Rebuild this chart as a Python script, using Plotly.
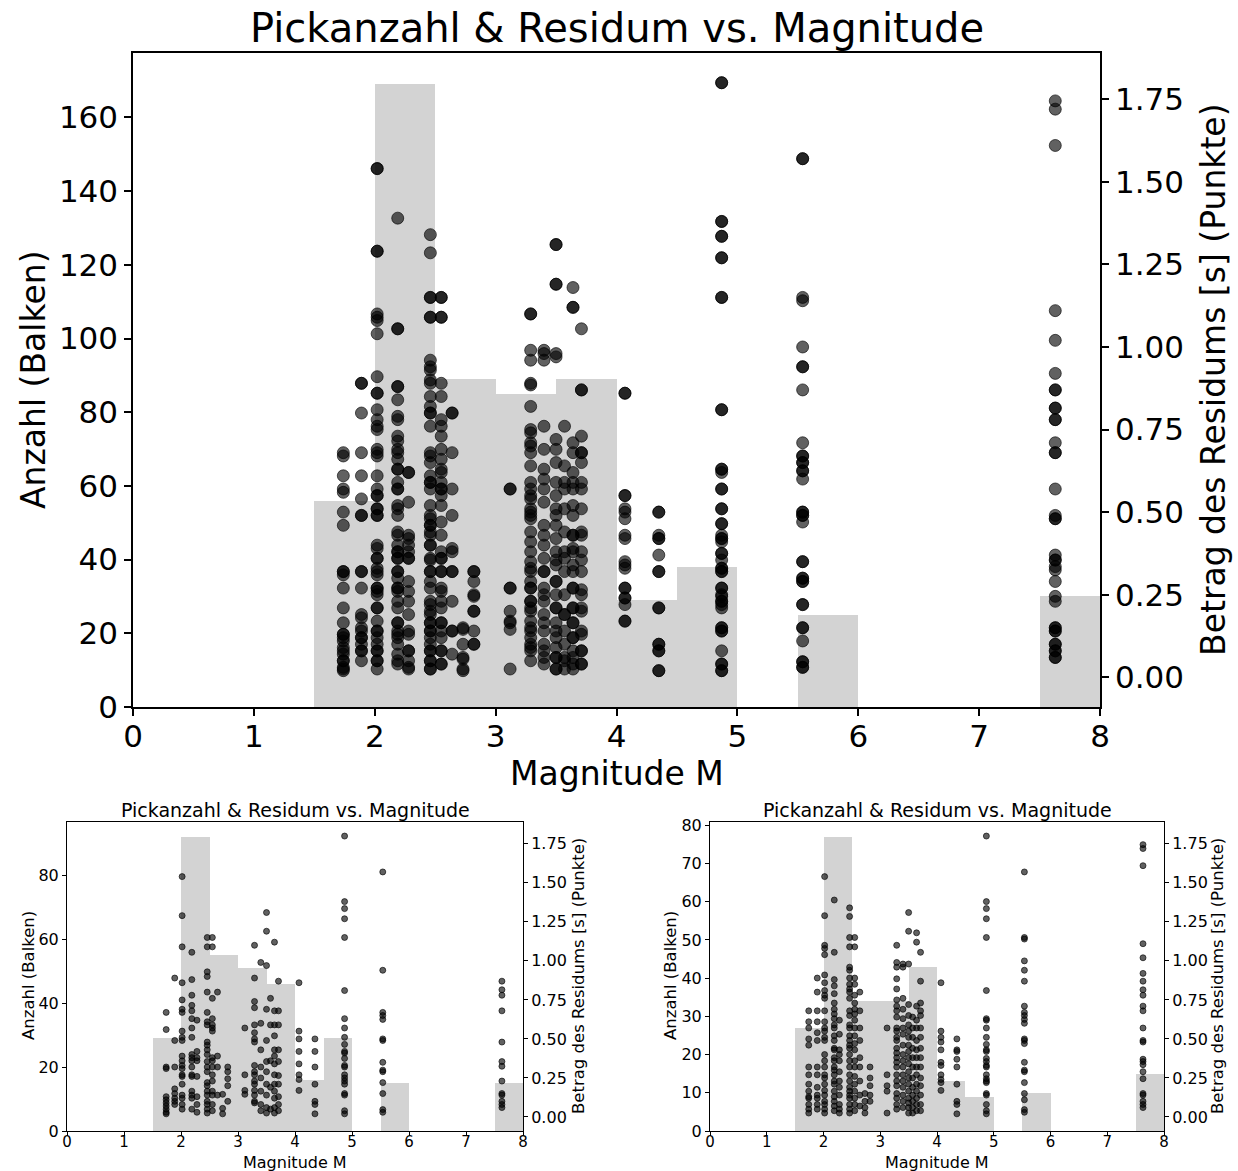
import plotly.graph_objects as go

# ---------------- data ----------------
title_text = "Pickanzahl & Residum vs. Magnitude"
x_label = "Magnitude M"
y_left_label = "Anzahl (Balken)"
y_right_label = "Betrag des Residums [s] (Punkte)"

bin_left_edges = [1.5, 2.0, 2.5, 3.0, 3.5, 4.0, 4.5, 5.0, 5.5, 6.0, 6.5, 7.0, 7.5]
counts_all = [56, 169, 89, 85, 89, 29, 38, 0, 25, 0, 0, 0, 30]
counts_a = [29, 92, 55, 51, 46, 16, 29, 0, 15, 0, 0, 0, 15]
counts_b = [27, 77, 34, 34, 43, 13, 9, 0, 10, 0, 0, 0, 15]

event_mag = [1.74, 1.89, 2.02, 2.19, 2.28, 2.46, 2.55, 2.64, 2.73, 2.82, 3.12,
             3.29, 3.40, 3.50, 3.57, 3.64, 3.71, 4.07, 4.35, 4.87, 5.54, 7.63]

resid_a = [
    [0.67, 0.56, 0.32, 0.31, 0.13, 0.11, 0.09, 0.07, 0.05, 0.03, 0.02],
    [0.89, 0.49, 0.32, 0.18, 0.15, 0.12, 0.10, 0.08],
    [1.54, 1.29, 1.09, 0.86, 0.75, 0.69, 0.67, 0.55, 0.51, 0.49, 0.39, 0.36, 0.33, 0.31, 0.27, 0.26, 0.21, 0.14, 0.12, 0.08, 0.05],
    [1.055, 0.88, 0.78, 0.715, 0.68, 0.63, 0.57, 0.51, 0.40, 0.38, 0.36, 0.32, 0.27, 0.26, 0.165, 0.14, 0.12, 0.05],
    [0.62, 0.42, 0.38, 0.36, 0.26, 0.13, 0.08, 0.03],
    [1.15, 1.09, 0.93, 0.90, 0.80, 0.67, 0.61, 0.59, 0.48, 0.46, 0.43, 0.40, 0.355, 0.32, 0.29, 0.22, 0.20, 0.165, 0.14, 0.10, 0.08, 0.05, 0.025],
    [1.15, 1.09, 0.76, 0.63, 0.59, 0.57, 0.55, 0.38, 0.36, 0.32, 0.27, 0.23, 0.165, 0.14, 0.08, 0.04],
    [0.80, 0.39, 0.32, 0.14],
    [0.145, 0.055, 0.02],
    [0.32, 0.29, 0.245, 0.20, 0.10],
    [0.57, 0.27, 0.17, 0.145],
    [1.10, 0.89, 0.74, 0.70, 0.59, 0.54, 0.50, 0.48, 0.33, 0.29, 0.27, 0.23, 0.21, 0.17, 0.14, 0.10, 0.09],
    [0.99, 0.60, 0.43, 0.32, 0.25, 0.165, 0.08, 0.04],
    [1.31, 1.19, 0.97, 0.69, 0.49, 0.355, 0.29, 0.21, 0.14, 0.06, 0.025],
    [0.76, 0.59, 0.36, 0.19, 0.05],
    [1.12, 0.68, 0.59, 0.52, 0.43, 0.39, 0.34, 0.27, 0.21, 0.165, 0.12, 0.06, 0.025],
    [0.87, 0.68, 0.59, 0.43, 0.355, 0.265, 0.21, 0.13, 0.08, 0.04],
    [0.86, 0.55, 0.50, 0.42, 0.34, 0.27, 0.24, 0.17],
    [0.50, 0.42, 0.32, 0.21, 0.10, 0.08, 0.02],
    [1.80, 1.38, 1.335, 1.27, 1.15, 0.81, 0.63, 0.57, 0.51, 0.465, 0.42, 0.41, 0.375, 0.33, 0.32, 0.27, 0.25, 0.23, 0.21, 0.15, 0.14, 0.04, 0.02],
    [1.57, 0.94, 0.67, 0.65, 0.625, 0.50, 0.49, 0.35, 0.30, 0.29, 0.22, 0.15, 0.047, 0.03],
    [0.87, 0.815, 0.78, 0.68, 0.48, 0.355, 0.325, 0.23, 0.15, 0.14, 0.10, 0.08, 0.06],
]

resid_b = [
    [0.68, 0.61, 0.57, 0.50, 0.46, 0.32, 0.27, 0.21, 0.165, 0.13, 0.12, 0.08, 0.05, 0.025],
    [0.89, 0.80, 0.68, 0.61, 0.54, 0.49, 0.32, 0.27, 0.19, 0.14, 0.12, 0.08, 0.05],
    [1.54, 1.29, 1.10, 1.08, 1.04, 0.91, 0.86, 0.81, 0.78, 0.76, 0.68, 0.61, 0.57, 0.55, 0.51, 0.49, 0.40, 0.36, 0.32, 0.27, 0.25, 0.21, 0.17, 0.14, 0.10, 0.08, 0.05, 0.025],
    [1.39, 1.055, 0.88, 0.84, 0.79, 0.73, 0.69, 0.66, 0.63, 0.59, 0.57, 0.52, 0.49, 0.44, 0.43, 0.38, 0.36, 0.32, 0.30, 0.27, 0.23, 0.21, 0.165, 0.13, 0.10, 0.07, 0.04],
    [0.62, 0.53, 0.43, 0.40, 0.36, 0.29, 0.23, 0.19, 0.14, 0.08, 0.05, 0.025],
    [1.34, 1.285, 1.15, 1.09, 0.96, 0.94, 0.89, 0.85, 0.82, 0.80, 0.76, 0.68, 0.65, 0.59, 0.57, 0.52, 0.49, 0.46, 0.44, 0.40, 0.36, 0.32, 0.27, 0.23, 0.19, 0.165, 0.14, 0.12, 0.08, 0.05, 0.025],
    [1.15, 1.09, 0.89, 0.85, 0.78, 0.73, 0.69, 0.66, 0.62, 0.57, 0.52, 0.47, 0.43, 0.36, 0.32, 0.26, 0.21, 0.165, 0.12, 0.08, 0.04],
    [0.80, 0.68, 0.57, 0.49, 0.38, 0.32, 0.23, 0.14, 0.07],
    [0.15, 0.10, 0.06, 0.025],
    [0.32, 0.25, 0.20, 0.14, 0.10],
    [0.57, 0.27, 0.20, 0.165, 0.025],
    [1.10, 0.99, 0.96, 0.885, 0.82, 0.75, 0.71, 0.68, 0.64, 0.57, 0.55, 0.51, 0.49, 0.44, 0.41, 0.38, 0.35, 0.32, 0.27, 0.23, 0.20, 0.15, 0.12, 0.08, 0.05],
    [0.98, 0.96, 0.76, 0.69, 0.63, 0.57, 0.53, 0.46, 0.40, 0.36, 0.32, 0.27, 0.23, 0.19, 0.14, 0.10, 0.06],
    [1.31, 1.19, 0.98, 0.72, 0.65, 0.59, 0.55, 0.51, 0.46, 0.42, 0.38, 0.34, 0.29, 0.25, 0.21, 0.165, 0.12, 0.09, 0.06, 0.025],
    [0.64, 0.57, 0.51, 0.44, 0.38, 0.32, 0.25, 0.19, 0.14, 0.10, 0.06, 0.025],
    [1.18, 1.12, 0.71, 0.62, 0.57, 0.49, 0.43, 0.38, 0.32, 0.27, 0.21, 0.165, 0.12, 0.08, 0.04],
    [1.055, 0.87, 0.73, 0.68, 0.65, 0.57, 0.51, 0.44, 0.38, 0.32, 0.25, 0.20, 0.14, 0.08, 0.04],
    [0.86, 0.55, 0.51, 0.48, 0.43, 0.35, 0.33, 0.27, 0.24, 0.22, 0.17],
    [0.50, 0.43, 0.42, 0.37, 0.32, 0.21, 0.10, 0.08, 0.02],
    [1.80, 1.38, 1.335, 1.27, 1.15, 0.81, 0.63, 0.62, 0.57, 0.51, 0.465, 0.43, 0.42, 0.375, 0.355, 0.33, 0.32, 0.27, 0.245, 0.23, 0.22, 0.15, 0.14, 0.08, 0.04, 0.02],
    [1.57, 1.15, 1.14, 1.00, 0.94, 0.87, 0.71, 0.67, 0.65, 0.625, 0.60, 0.50, 0.49, 0.47, 0.35, 0.30, 0.29, 0.22, 0.15, 0.11, 0.047, 0.03],
    [1.745, 1.72, 1.61, 1.11, 1.02, 0.92, 0.87, 0.815, 0.78, 0.71, 0.68, 0.57, 0.49, 0.48, 0.37, 0.355, 0.335, 0.29, 0.245, 0.15, 0.14, 0.10, 0.08, 0.06],
]

BIN_W = 0.5
W, H = 1238, 1171


def flatten(mags, groups):
    xs, ys = [], []
    for m, g in zip(mags, groups):
        for r in g:
            xs.append(m)
            ys.append(r)
    return xs, ys


xa, ya = flatten(event_mag, resid_a)
xb, yb = flatten(event_mag, resid_b)

BAR_COLOR = "#d3d3d3"
PT = "rgba(0,0,0,0.62)"
FONT = "DejaVu Sans"

fig = go.Figure()

panels = [
    ("x", "y", "y2", counts_all, xa + xb, ya + yb, 12),
    ("x2", "y3", "y4", counts_a, xa, ya, 6),
    ("x3", "y5", "y6", counts_b, xb, yb, 6),
]

for xid, yl, yr, counts, sx, sy, msize in panels:
    fig.add_trace(go.Bar(
        x=[e + BIN_W / 2 for e in bin_left_edges], y=counts, width=BIN_W,
        marker=dict(color=BAR_COLOR, line=dict(width=0)),
        xaxis=xid, yaxis=yl, showlegend=False, hoverinfo="skip"))
    fig.add_trace(go.Scatter(
        x=sx, y=sy, mode="markers",
        marker=dict(size=msize, color=PT, line=dict(width=1, color=PT)),
        xaxis=xid, yaxis=yr, showlegend=False))


def px_x(p):
    return p / W


def px_y(p):
    return 1 - p / H


top_box = (133, 1100, 53, 707)
bl_box = (67, 523, 822, 1131)
br_box = (710, 1164, 822, 1131)


def common(font, lw, tl):
    return dict(showgrid=False, zeroline=False, showline=True, automargin=False,
                linecolor="black", linewidth=lw, ticks="outside", ticklen=tl,
                tickwidth=lw, tickcolor="black",
                tickfont=dict(family=FONT, size=font, color="black"))


def xaxis_cfg(box, font, lw, tl, anchor, standoff):
    d = common(font, lw, tl)
    d.update(domain=[px_x(box[0]), px_x(box[1])], range=[0, 8], dtick=1, tick0=0,
             mirror=True, anchor=anchor, ticklabelstandoff=standoff)
    return d


def yleft_cfg(box, font, lw, tl, anchor, rng, dt):
    d = common(font, lw, tl)
    d.update(domain=[px_y(box[3]), px_y(box[2])], range=rng, dtick=dt, tick0=0,
             mirror=True, anchor=anchor)
    return d


def yright_cfg(font, lw, tl, anchor, overlay):
    d = common(font, lw, tl)
    d.update(range=[-0.09, 1.89], dtick=0.25, tick0=0, tickformat=".2f",
             overlaying=overlay, side="right", anchor=anchor)
    return d


fig.update_layout(
    width=W, height=H, autosize=False,
    margin=dict(l=0, r=0, t=0, b=0, autoexpand=False),
    paper_bgcolor="white", plot_bgcolor="rgba(0,0,0,0)",
    bargap=0, barmode="overlay",
    font=dict(family=FONT, color="black"),
    xaxis=xaxis_cfg(top_box, 31, 1.5, 7, "y", -6),
    yaxis=yleft_cfg(top_box, 31, 1.5, 7, "x", [0, 177.5], 20),
    yaxis2=yright_cfg(31, 1.5, 7, "x", "y"),
    xaxis2=xaxis_cfg(bl_box, 15, 1, 4, "y3", -7),
    yaxis3=yleft_cfg(bl_box, 16, 1, 4, "x2", [0, 96.6], 20),
    yaxis4=yright_cfg(16, 1, 4, "x2", "y3"),
    xaxis3=xaxis_cfg(br_box, 15, 1, 4, "y5", -7),
    yaxis5=yleft_cfg(br_box, 16, 1, 4, "x3", [0, 80.85], 10),
    yaxis6=yright_cfg(16, 1, 4, "x3", "y5"),
)

annos = []


def add_text(text, x, y, size, angle=0):
    annos.append(dict(text=text, x=px_x(x), y=px_y(y), xref="paper", yref="paper",
                      xanchor="center", yanchor="middle", showarrow=False,
                      textangle=angle, font=dict(family=FONT, size=size, color="black")))


add_text(title_text, 616.5, 28, 40)
add_text(x_label, 616.5, 773, 33)
add_text(y_left_label, 33, 380, 33, -90)
add_text(y_right_label, 1213, 380, 33, -90)

add_text(title_text, 295, 810, 19)
add_text(x_label, 295, 1162, 16)
add_text(y_left_label, 28, 976, 16.5, -90)
add_text(y_right_label, 578, 976, 16.5, -90)

add_text(title_text, 937, 810, 19)
add_text(x_label, 937, 1162, 16)
add_text(y_left_label, 670, 976, 16.5, -90)
add_text(y_right_label, 1217, 976, 16.5, -90)

fig.update_layout(annotations=annos)

fig.write_html("out.html")
